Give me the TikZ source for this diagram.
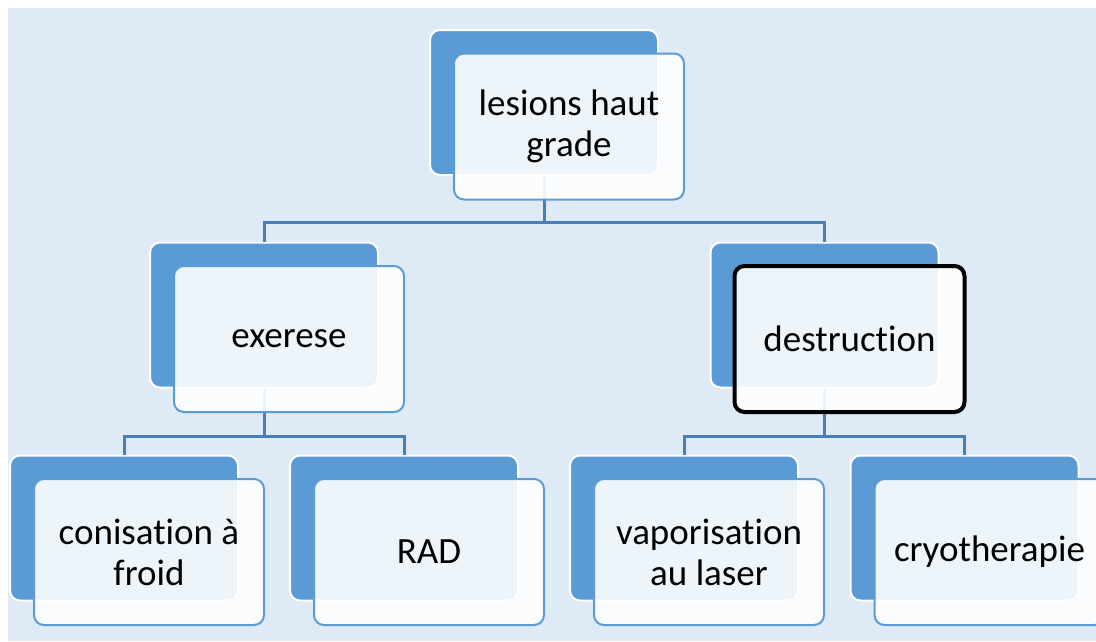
\documentclass[tikz,border=0pt]{standalone}
\usepackage{fontspec}
\setmainfont{Carlito}[RawFeature={-liga;-clig}]
\definecolor{bgblue}{HTML}{DEEAF6}
\definecolor{boxblue}{HTML}{5B9BD5}
\definecolor{linkblue}{HTML}{4A7EBB}

\begin{document}
\begin{tikzpicture}[x=1pt,y=-1pt]
  \tikzstyle{every node}=[font=\fontsize{37}{41}\selectfont]
  \tikzstyle{backbox}=[draw=white, line width=2pt, fill=boxblue, rounded corners=10pt, minimum width=228pt, minimum height=145pt]
  \tikzstyle{frontbox}=[draw=boxblue, line width=2pt, fill=white, fill opacity=0.9, text opacity=1, rounded corners=10pt, minimum width=230pt, minimum height=146pt, align=center]
  \tikzstyle{link}=[draw=linkblue, line width=3pt]

  \useasboundingbox (0,0) rectangle (1096,641);
  \clip (0,0) rectangle (1096,641);
  \fill[bgblue] (8,8) rectangle (1096,641);

  % blue cards behind
  \node (topb) [backbox] at (544,102.5) {};
  \node (exb)  [backbox] at (264,315)   {};
  \node (deb)  [backbox] at (824.5,315) {};
  \node (cob)  [backbox] at (124,528)   {};
  \node (radb) [backbox] at (404,528)   {};
  \node (vab)  [backbox] at (684,528)   {};
  \node (crb)  [backbox] at (964.5,528) {};

  % tree lines
  \draw [link] (topb.south) -- ++(0,46) -| (exb.north);
  \draw [link] (topb.south) -- ++(0,46) -| (deb.north);
  \draw [link] (exb.south)  -- ++(0,48) -| (cob.north);
  \draw [link] (exb.south)  -- ++(0,48) -| (radb.north);
  \draw [link] (deb.south)  -- ++(0,48) -| (vab.north);
  \draw [link] (deb.south)  -- ++(0,48) -| (crb.north);

  % text cards
  \node (top) [frontbox] at ([shift={(25,24)}]topb.center) {lesions haut\\grade};
  \node (ex)  [frontbox] at ([shift={(25,24)}]exb.center)  {exerese};
  \node (de)  [frontbox, draw=black, line width=4pt] at ([shift={(25,24)}]deb.center) {destruction};
  \node (co)  [frontbox] at ([shift={(25,24)}]cob.center)  {conisation à\\froid};
  \node (rad) [frontbox] at ([shift={(25,24)}]radb.center) {RAD};
  \node (va)  [frontbox] at ([shift={(25,24)}]vab.center)  {vaporisation\\au laser};
  \node (cr)  [frontbox] at ([shift={(25,24)}]crb.center)  {cryotherapie};
\end{tikzpicture}
\end{document}
